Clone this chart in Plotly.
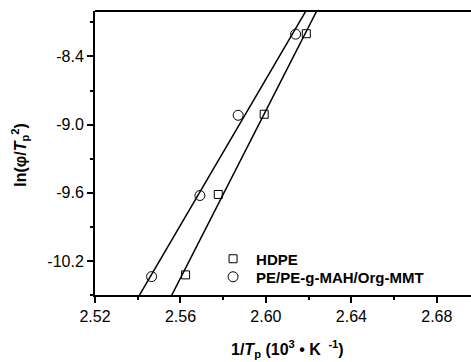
import numpy as np
import plotly.graph_objects as go

# Data
hdpe_x = [2.5624, 2.5777, 2.5992, 2.6189]
hdpe_y = [-10.323, -9.615, -8.909, -8.200]
nano_x = [2.5465, 2.5691, 2.5870, 2.6139]
nano_y = [-10.338, -9.624, -8.918, -8.204]

x_ticks = [2.52, 2.56, 2.60, 2.64, 2.68]
y_ticks = [-8.4, -9.0, -9.6, -10.2]

FAM = "Liberation Sans, Arial, sans-serif"

fig = go.Figure()

fit_x = np.array([2.50, 2.70])
for xs, ys in [(hdpe_x, hdpe_y), (nano_x, nano_y)]:
    k, b = np.polyfit(xs, ys, 1)
    fig.add_trace(go.Scatter(x=fit_x, y=k * fit_x + b, mode="lines",
                             line=dict(color="black", width=1.5),
                             showlegend=False, hoverinfo="skip"))

fig.add_trace(go.Scatter(x=hdpe_x, y=hdpe_y, mode="markers", name="<b>HDPE</b>",
                         legend="legend",
                         marker=dict(symbol="square-open", size=8, color="black",
                                     line=dict(width=1, color="black"))))
fig.add_trace(go.Scatter(x=nano_x, y=nano_y, mode="markers", name="<b>PE/PE-g-MAH/Org-MMT</b>",
                         legend="legend2",
                         marker=dict(symbol="circle-open", size=10, color="black",
                                     line=dict(width=1, color="black"))))

font = dict(family=FAM, size=16, color="black")
lfont = dict(family=FAM, size=15, color="black")

fig.update_layout(
    width=471, height=362,
    margin=dict(l=95, r=0, t=11, b=67),
    plot_bgcolor="white", paper_bgcolor="white",
    font=font,
    showlegend=True,
    legend=dict(x=0.306, y=(295 - 259) / 284, xanchor="left", yanchor="middle",
                bgcolor="rgba(0,0,0,0)", font=lfont, itemwidth=36),
    legend2=dict(x=0.306, y=(295 - 277) / 284, xanchor="left", yanchor="middle",
                 bgcolor="rgba(0,0,0,0)", font=lfont, itemwidth=36),
    xaxis=dict(range=[2.52, 2.696], tickvals=x_ticks,
               ticktext=[f"{v:.2f}" for v in x_ticks],
               showgrid=False, zeroline=False, showline=True, linecolor="black", linewidth=2,
               ticks="outside", ticklen=6, tickwidth=2, tickcolor="black",
               minor=dict(ticks="outside", ticklen=3, tickwidth=1.5, tickcolor="black",
                          tick0=2.54, dtick=0.04),
               tickfont=font),
    yaxis=dict(range=[-10.5, -8.0], tickvals=y_ticks,
               ticktext=[f"{v:.1f}" for v in y_ticks],
               showgrid=False, zeroline=False, showline=True, linecolor="black", linewidth=2,
               ticks="outside", ticklen=6, tickwidth=2, tickcolor="black",
               minor=dict(ticks="outside", ticklen=3, tickwidth=1.5, tickcolor="black",
                          tick0=-8.1, dtick=0.6),
               tickfont=font),
)

fig.add_shape(type="line", xref="paper", yref="paper", x0=0, x1=1, y0=1, y1=1,
              line=dict(color="black", width=2))

fig.add_annotation(xref="paper", yref="paper", x=0.511, y=-0.19, showarrow=False,
                   text="<b>1/<i>T</i><sub>p</sub> (10<sup>3</sup> • K <sup> -1</sup>)</b>",
                   font=dict(family=FAM, size=16, color="black"),
                   xanchor="center", yanchor="middle")
fig.add_annotation(xref="paper", yref="paper", x=-0.2, y=0.493, showarrow=False,
                   text="<b>ln(φ/<i>T</i><sub>p</sub><sup>2</sup>)</b>", textangle=-90,
                   font=dict(family=FAM, size=16, color="black"),
                   xanchor="center", yanchor="middle")

fig.write_html("out.html")
